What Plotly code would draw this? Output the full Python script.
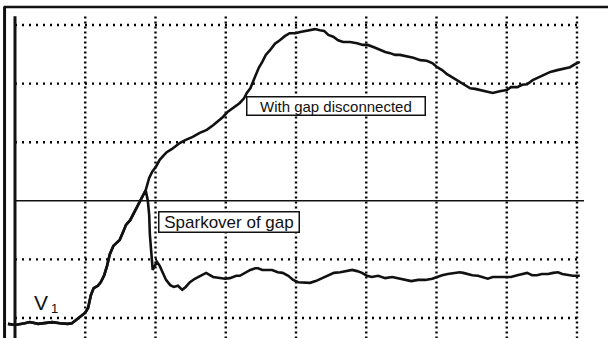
import plotly.graph_objects as go

# Oscilloscope trace, units are screen divisions (8 horizontal divisions).
# Common front of both records: baseline and initial rise.
rise_t = [-0.10, 0.00, 0.14, 0.21, 0.33, 0.43, 0.53, 0.64, 0.75, 0.81, 0.90, 1.00,
          1.04, 1.08, 1.12, 1.18, 1.22, 1.27, 1.31, 1.35, 1.40, 1.45, 1.49, 1.54,
          1.58, 1.64, 1.68, 1.74, 1.78, 1.82, 1.86]
rise_v = [-0.10, -0.12, -0.09, -0.07, -0.10, -0.09, -0.07, -0.09, -0.10, -0.09, 0.00, 0.09,
          0.17, 0.39, 0.51, 0.55, 0.61, 0.73, 0.89, 1.09, 1.23, 1.28, 1.33, 1.47,
          1.59, 1.67, 1.76, 1.89, 2.00, 2.08, 2.18]

# Record with the gap disconnected (continues after the common front)
open_t = [1.91, 1.95, 2.01, 2.06, 2.12, 2.16, 2.23, 2.29, 2.35, 2.43, 2.53, 2.63,
          2.73, 2.82, 2.89, 2.96, 3.03, 3.09, 3.15, 3.20, 3.26, 3.30, 3.35, 3.39,
          3.43, 3.47, 3.52, 3.57, 3.63, 3.70, 3.77, 3.84, 3.91, 3.99, 4.06, 4.13,
          4.20, 4.27, 4.34, 4.40, 4.46, 4.53, 4.60, 4.67, 4.77, 4.87, 4.95, 5.02,
          5.11, 5.20, 5.27, 5.34, 5.41, 5.48, 5.58, 5.67, 5.77, 5.86, 5.94, 6.01,
          6.08, 6.15, 6.22, 6.29, 6.36, 6.42, 6.48, 6.55, 6.62, 6.72, 6.80, 6.90,
          7.00, 7.06, 7.15, 7.22, 7.29, 7.37, 7.44, 7.52, 7.62, 7.72, 7.80, 7.90,
          7.97, 8.04]
open_v = [2.39, 2.49, 2.59, 2.70, 2.78, 2.83, 2.88, 2.94, 2.99, 3.04, 3.09, 3.16,
          3.21, 3.29, 3.36, 3.43, 3.52, 3.57, 3.62, 3.67, 3.75, 3.84, 3.92, 4.03,
          4.15, 4.27, 4.37, 4.49, 4.57, 4.68, 4.74, 4.81, 4.86, 4.86, 4.88, 4.90,
          4.91, 4.93, 4.91, 4.90, 4.83, 4.80, 4.74, 4.71, 4.71, 4.69, 4.66, 4.66,
          4.62, 4.57, 4.54, 4.52, 4.49, 4.49, 4.47, 4.44, 4.40, 4.39, 4.35, 4.28,
          4.23, 4.16, 4.11, 4.06, 4.01, 3.96, 3.92, 3.91, 3.89, 3.87, 3.84, 3.87,
          3.89, 3.94, 3.94, 3.98, 3.99, 4.06, 4.10, 4.15, 4.20, 4.23, 4.25, 4.28,
          4.33, 4.37]

# Record with sparkover of the gap (collapse after the crest)
spark_t = [1.89, 1.91, 1.92, 1.94, 1.95, 1.96, 1.99, 2.02, 2.06, 2.11, 2.15, 2.21,
           2.26, 2.32, 2.38, 2.43, 2.49, 2.56, 2.63, 2.72, 2.82, 2.92, 2.99, 3.06,
           3.15, 3.20, 3.27, 3.35, 3.42, 3.46, 3.52, 3.59, 3.66, 3.74, 3.81, 3.89,
           3.96, 4.03, 4.11, 4.20, 4.28, 4.37, 4.46, 4.54, 4.63, 4.71, 4.80, 4.87,
           4.94, 5.01, 5.08, 5.17, 5.27, 5.37, 5.48, 5.57, 5.64, 5.74, 5.84, 5.94,
           6.01, 6.08, 6.16, 6.26, 6.33, 6.38, 6.43, 6.51, 6.59, 6.68, 6.73, 6.80,
           6.90, 6.99, 7.06, 7.15, 7.22, 7.29, 7.36, 7.43, 7.50, 7.59, 7.66, 7.73,
           7.79, 7.86, 7.94, 8.04]
spark_v = [2.01, 1.76, 1.42, 1.08, 0.90, 0.82, 0.89, 0.96, 0.89, 0.77, 0.65, 0.56,
           0.53, 0.55, 0.48, 0.53, 0.61, 0.67, 0.72, 0.77, 0.70, 0.68, 0.67, 0.68,
           0.72, 0.72, 0.77, 0.82, 0.85, 0.85, 0.82, 0.82, 0.82, 0.78, 0.77, 0.72,
           0.65, 0.61, 0.60, 0.60, 0.63, 0.68, 0.72, 0.77, 0.78, 0.80, 0.82, 0.80,
           0.77, 0.72, 0.70, 0.72, 0.68, 0.70, 0.67, 0.65, 0.63, 0.65, 0.65, 0.67,
           0.70, 0.73, 0.75, 0.77, 0.78, 0.77, 0.75, 0.73, 0.72, 0.68, 0.67, 0.70,
           0.70, 0.70, 0.70, 0.73, 0.75, 0.77, 0.73, 0.73, 0.75, 0.75, 0.77, 0.78,
           0.75, 0.73, 0.72, 0.72]

label_open = "With gap disconnected"
label_spark = "Sparkover of gap"

X_DIVS = 8
Y_DOTTED = [0, 1, 3, 4, 5]
Y_SOLID = 2

fig = go.Figure()

trace_style = dict(color="#111111", width=2.6)
fig.add_trace(go.Scatter(x=rise_t + open_t, y=rise_v + open_v, mode="lines",
                         line=trace_style, name=label_open, hoverinfo="skip"))
fig.add_trace(go.Scatter(x=rise_t + spark_t, y=rise_v + spark_v, mode="lines",
                         line=trace_style, name=label_spark, hoverinfo="skip"))

shapes = []
# dotted graticule
for k in range(1, X_DIVS + 1):
    shapes.append(dict(type="line", xref="x", yref="y", x0=k, x1=k, y0=-0.35, y1=5.15,
                       line=dict(color="#000000", width=2.4, dash="2px,3px"), layer="below"))
for yv in Y_DOTTED:
    shapes.append(dict(type="line", xref="x", yref="y", x0=0, x1=8.05, y0=yv, y1=yv,
                       line=dict(color="#000000", width=2.4, dash="2px,5px"), layer="below"))
# solid reference line and left axis
shapes.append(dict(type="line", xref="x", yref="y", x0=0, x1=8.1, y0=Y_SOLID, y1=Y_SOLID,
                   line=dict(color="#111111", width=1.6), layer="below"))
shapes.append(dict(type="line", xref="x", yref="y", x0=0, x1=0, y0=-0.35, y1=5.15,
                   line=dict(color="#111111", width=3)))
# outer frame (left and top edges)
shapes.append(dict(type="line", xref="paper", yref="paper", x0=0.0075, x1=0.0075, y0=0, y1=0.98,
                   line=dict(color="#111111", width=3)))
shapes.append(dict(type="line", xref="paper", yref="paper", x0=0.006, x1=1, y0=0.979, y1=0.979,
                   line=dict(color="#111111", width=2.5)))

font = "Liberation Sans, Arial, Helvetica, sans-serif"
pad = "\u00a0"
annotations = [
    dict(x=4.57, y=3.62, xref="x", yref="y", text=pad * 3 + label_open + pad * 3,
         showarrow=False, font=dict(family=font, size=15, color="#111111"), bgcolor="white",
         bordercolor="#111111", borderwidth=1.5, borderpad=0),
    dict(x=3.04, y=1.63, xref="x", yref="y", text=pad + label_spark + pad,
         showarrow=False, font=dict(family=font, size=17, color="#111111"), bgcolor="white",
         bordercolor="#111111", borderwidth=1.5, borderpad=0),
    dict(x=0.37, y=0.27, xref="x", yref="y", text="V", showarrow=False,
         font=dict(family=font, size=21, color="#111111")),
    dict(x=0.56, y=0.17, xref="x", yref="y", text="1", showarrow=False,
         font=dict(family=font, size=13, color="#111111")),
]

fig.update_layout(
    width=608, height=338,
    margin=dict(l=0, r=0, t=0, b=0),
    paper_bgcolor="white", plot_bgcolor="white",
    showlegend=False,
    shapes=shapes, annotations=annotations,
    xaxis=dict(range=[-15 / 70.25, 593 / 70.25], visible=False, fixedrange=True),
    yaxis=dict(range=[-20 / 58.6, 318 / 58.6], visible=False, fixedrange=True),
)

fig.write_html("out.html", config={"displayModeBar": False})
